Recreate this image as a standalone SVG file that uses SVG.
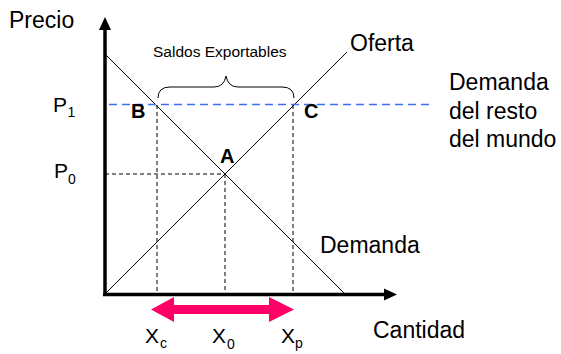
<svg xmlns="http://www.w3.org/2000/svg" width="561" height="354" viewBox="0 0 561 354">
<style>
text{font-family:"Liberation Sans",Arial,sans-serif;fill:#000}
.lbl{font-size:23px}
.pt{font-size:20px;font-weight:bold}
.sym{font-size:21px}
.sub{font-size:14px}
.curve{stroke:#000;stroke-width:1;fill:none}
.guide{stroke:#000;stroke-width:1;stroke-dasharray:4 3;fill:none}
.axis{stroke:#000;stroke-width:3.5;fill:none}
</style>
<defs>
<marker id="ah" markerUnits="userSpaceOnUse" markerWidth="14" markerHeight="14" refX="2" refY="7" orient="auto">
<path d="M0,1 L13,7 L0,13 Z" fill="#000"/>
</marker>
</defs>
<rect width="561" height="354" fill="#fff"/>
<g id="connectors">
<line id="axis-y" class="axis" x1="105" y1="296" x2="105" y2="28" marker-end="url(#ah)"/>
<line id="axis-x" class="axis" x1="103" y1="294.5" x2="386" y2="294.5" marker-end="url(#ah)"/>
<line id="oferta-line" class="curve" x1="105" y1="294" x2="347" y2="52"/>
<line id="demanda-line" class="curve" x1="106" y1="55" x2="345" y2="294"/>
<line class="guide" x1="105" y1="174" x2="225" y2="174"/>
<line class="guide" x1="225" y1="174" x2="225" y2="293"/>
<line class="guide" x1="157" y1="105" x2="157" y2="293"/>
<line class="guide" x1="293" y1="105" x2="293" y2="293"/>
<line id="world-demand" x1="109" y1="104.5" x2="430" y2="104.5" stroke="#3f6ef0" stroke-width="1.6" stroke-dasharray="8 5"/>
<path id="brace" class="curve" d="M158,98 Q158,87 170,87 L214,87 Q224,87 226,76 Q228,87 238,87 L282,87 Q294,87 294,98"/>
<path id="range-arrow" fill="#ff0066" d="M151,309.5 L174,297 L174,305 L269,305 L269,297 L294,309.5 L269,322 L269,314 L174,314 L174,322 Z"/>
</g>
<g id="labels">
<text class="lbl" x="9" y="28">Precio</text>
<text x="153" y="57" style="font-size:15.5px">Saldos Exportables</text>
<text class="lbl" x="350" y="51">Oferta</text>
<text class="lbl" x="449" y="90">Demanda</text>
<text class="lbl" x="449" y="118.5">del resto</text>
<text class="lbl" x="449" y="147">del mundo</text>
<text class="lbl" x="320" y="253">Demanda</text>
<text class="lbl" x="373" y="338">Cantidad</text>
</g>
<g id="node-P1"><text class="sym" x="53" y="112">P</text><text class="sub" x="67.5" y="117">1</text></g>
<g id="node-P0"><text class="sym" x="54" y="178">P</text><text class="sub" x="68" y="184">0</text></g>
<g id="node-B"><text class="pt" x="131" y="118">B</text></g>
<g id="node-C"><text class="pt" x="304" y="118">C</text></g>
<g id="node-A"><text class="pt" x="220" y="163">A</text></g>
<g id="node-Xc"><text class="sym" x="145" y="343">X</text><text class="sub" x="160" y="348">c</text></g>
<g id="node-X0"><text class="sym" x="212" y="343">X</text><text class="sub" x="227" y="349">0</text></g>
<g id="node-Xp"><text class="sym" x="281" y="343">X</text><text class="sub" x="295" y="348">p</text></g>
</svg>
